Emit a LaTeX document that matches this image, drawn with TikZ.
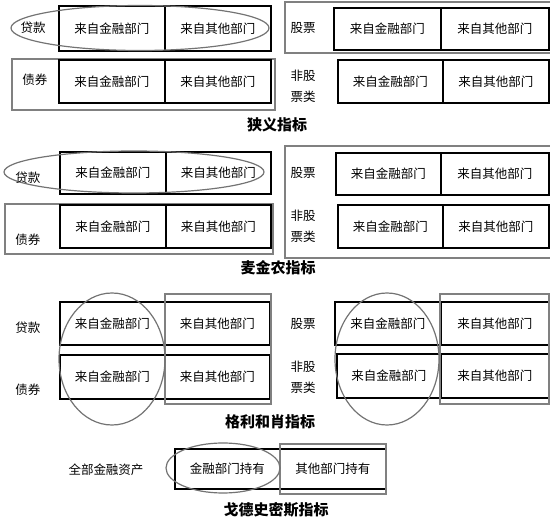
\documentclass[tikz,border=0pt]{standalone}
\usepackage{fontspec}
\setmainfont{Noto Sans CJK SC}
\usetikzlibrary{fit,shapes.geometric}
\tikzset{
  cell/.style={draw=black, line width=1.8pt, inner sep=0pt, anchor=north west, font=\fontsize{12.5}{15}\selectfont},
  grp/.style={draw=black!50, line width=1.6pt, inner sep=0pt, anchor=north west},
  ring/.style={draw=black!55, line width=1.2pt, ellipse, inner sep=0pt},
  lab/.style={font=\fontsize{12.5}{21}\selectfont, align=center, inner sep=0pt},
  ttl/.style={font=\fontsize{15}{18}\selectfont\bfseries, inner sep=0pt}
}
\newcommand\cellbox[6]{\node[cell, minimum width={(#4-#2)*1pt}, minimum height={(#5-#3)*1pt}] (#1) at (#2,#3) {#6};}
\newcommand\grpbox[5]{\node[grp, minimum width={(#4-#2)*1pt}, minimum height={(#5-#3)*1pt}] (#1) at (#2,#3) {};}
\newcommand\ring[5]{\node[ring, minimum width=#4pt, minimum height=#5pt] (#1) at (#2,#3) {};}
\begin{document}
\begin{tikzpicture}[x=1pt,y=-1pt]
\useasboundingbox (0,0) rectangle (550,521);
% ---------- panel 1: narrow ----------
\grpbox{g1b}{11}{58}{274}{109}
\grpbox{g1r}{284}{1}{553}{52}
\cellbox{a1}{58}{5}{164}{50}{来自金融部门}
\cellbox{a2}{164}{5}{270}{50}{来自其他部门}
\cellbox{a3}{58}{59}{164}{102}{来自金融部门}
\cellbox{a4}{164}{59}{270}{102}{来自其他部门}
\cellbox{a5}{333}{7}{440}{49}{来自金融部门}
\cellbox{a6}{440}{7}{548}{49}{来自其他部门}
\cellbox{a7}{337}{59}{442}{102}{来自金融部门}
\cellbox{a8}{442}{59}{548}{102}{来自其他部门}
\ring{e1}{140}{28}{258}{45}
\node[lab] (l1) at (33,28) {贷款};
\node[lab] (l2) at (35,80) {债券};
\node[lab] (l3) at (303,28) {股票};
\node[lab] (l4) at (303,86) {非股\\票类};
\node[ttl] (t1) at (277,125) {狭义指标};
% ---------- panel 2: McKinnon ----------
\grpbox{g2b}{4}{203}{272}{253}
\grpbox{g2r}{284}{145}{553}{257}
\cellbox{b1}{59}{151}{165}{193}{来自金融部门}
\cellbox{b2}{165}{151}{270}{193}{来自其他部门}
\cellbox{b3}{59}{204}{165}{247}{来自金融部门}
\cellbox{b4}{165}{204}{270}{247}{来自其他部门}
\cellbox{b5}{335}{152}{440}{194}{来自金融部门}
\cellbox{b6}{440}{152}{548}{194}{来自其他部门}
\cellbox{b7}{337}{204}{442}{247}{来自金融部门}
\cellbox{b8}{442}{204}{548}{247}{来自其他部门}
\ring{e2}{134}{172}{260}{42}
\node[lab] (m1) at (28,178) {贷款};
\node[lab] (m2) at (28,240) {债券};
\node[lab] (m3) at (303,173) {股票};
\node[lab] (m4) at (303,226) {非股\\票类};
\node[ttl] (t2) at (278,268) {麦金农指标};
% ---------- panel 3: Gurley & Shaw ----------
\cellbox{c1}{59}{301}{164}{344}{来自金融部门}
\cellbox{c2}{164}{301}{269}{344}{来自其他部门}
\cellbox{c3}{59}{354}{164}{398}{来自金融部门}
\cellbox{c4}{164}{354}{269}{398}{来自其他部门}
\cellbox{c5}{334}{301}{440}{344}{来自金融部门}
\cellbox{c6}{440}{301}{548}{344}{来自其他部门}
\cellbox{c7}{336}{353}{440}{397}{来自金融部门}
\cellbox{c8}{440}{353}{548}{397}{来自其他部门}
\grpbox{g3l}{164}{293}{270}{403}
\grpbox{g3r}{439}{293}{548}{403}
\ring{e3}{112}{359}{106}{132}
\ring{e4}{387}{359}{104}{132}
\node[lab] (n1) at (28,328) {贷款};
\node[lab] (n2) at (28,390) {债券};
\node[lab] (n3) at (303,324) {股票};
\node[lab] (n4) at (303,377) {非股\\票类};
\node[ttl] (t3) at (270,422) {格利和肖指标};
% ---------- panel 4: Goldsmith ----------
\cellbox{d1}{174}{448}{279}{488}{金融部门持有}
\cellbox{d2}{279}{448}{385}{488}{其他部门持有}
\grpbox{g4}{279}{443}{385}{493}
\ring{e5}{223}{468}{114}{50}
\node[lab] (p1) at (106,470) {全部金融资产};
\node[ttl] (t4) at (276,510) {戈德史密斯指标};
\end{tikzpicture}
\end{document}
